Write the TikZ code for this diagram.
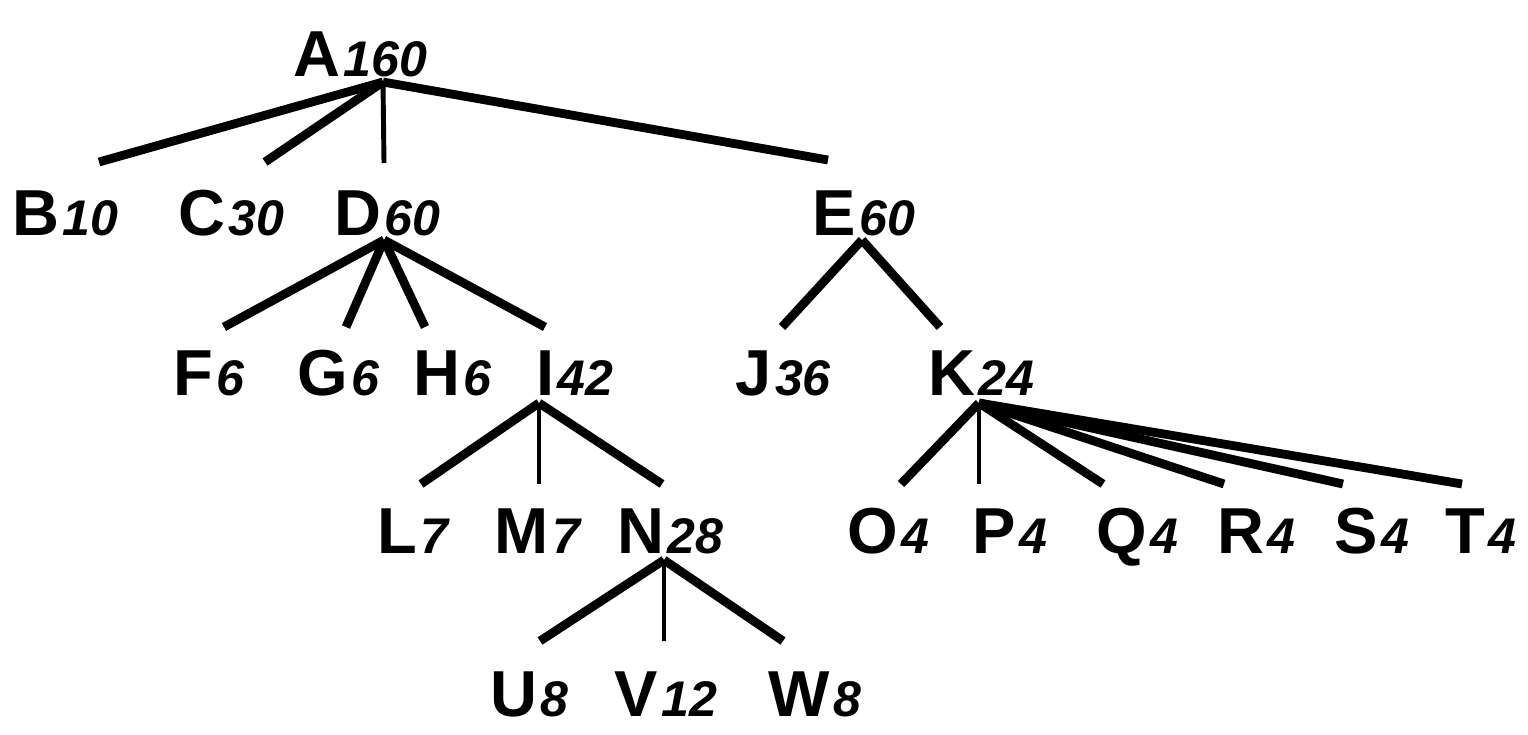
\documentclass[tikz,border=0pt]{standalone}
\usepackage{fontspec}
\setmainfont{Liberation Sans}
\usetikzlibrary{positioning}
\newcommand{\nm}[1]{\hspace{2pt}{\fontsize{28.5}{28.5}\selectfont\bfseries\itshape #1}}
\tikzset{
  lbl/.style={anchor=base west,inner sep=0pt,font=\fontsize{37}{37}\selectfont\bfseries},
  edge/.style={line width=5pt},
  vedge/.style={line width=2.8pt}
}
\begin{document}
\begin{tikzpicture}[x=0.02cm,y=-0.02cm]
\useasboundingbox (0,0) rectangle (1528,734);
% labels
\node[lbl] (A) at (293,76) {A\nm{160}};
\node[lbl] (B) at (12,235) {B\nm{10}};
\node[lbl] (C) at (178,235) {C\nm{30}};
\node[lbl] (D) at (334,235) {D\nm{60}};
\node[lbl] (E) at (812,235) {E\nm{60}};
\node[lbl] (F) at (173,395) {F\nm{6}};
\node[lbl] (G) at (297,395) {G\nm{6}};
\node[lbl] (H) at (413,395) {H\nm{6}};
\node[lbl] (I) at (536,395) {I\nm{42}};
\node[lbl] (J) at (735,395) {J\nm{36}};
\node[lbl] (K) at (928,395) {K\nm{24}};
\node[lbl] (L) at (377,553) {L\nm{7}};
\node[lbl] (M) at (494,553) {M\nm{7}};
\node[lbl] (N) at (617,553) {N\nm{28}};
\node[lbl] (O) at (847,553) {O\nm{4}};
\node[lbl] (P) at (972,553) {P\nm{4}};
\node[lbl] (Q) at (1096,553) {Q\nm{4}};
\node[lbl] (R) at (1217,553) {R\nm{4}};
\node[lbl] (S) at (1334,553) {S\nm{4}};
\node[lbl] (T) at (1445,553) {T\nm{4}};
\node[lbl] (U) at (490,716) {U\nm{8}};
\node[lbl] (V) at (614,716) {V\nm{12}};
\node[lbl] (W) at (768,716) {W\nm{8}};
% branch points under parents
\coordinate (A-h) at (383,82);
\coordinate (D-h) at (384,240);
\coordinate (E-h) at (862,240);
\coordinate (I-h) at (539,403);
\coordinate (K-h) at (979,403);
\coordinate (N-h) at (664,560);
% line ends above children
\coordinate (B-t) at (99,162);
\coordinate (C-t) at (265,162);
\coordinate (D-t) at (384,163);
\coordinate (E-t) at (828,160);
\coordinate (F-t) at (224,327);
\coordinate (G-t) at (346,327);
\coordinate (H-t) at (425,327);
\coordinate (I-t) at (545,327);
\coordinate (J-t) at (782,327);
\coordinate (K-t) at (940,327);
\coordinate (L-t) at (421,484);
\coordinate (M-t) at (539,484);
\coordinate (N-t) at (662,484);
\coordinate (O-t) at (901,484);
\coordinate (P-t) at (979,484);
\coordinate (Q-t) at (1103,484);
\coordinate (R-t) at (1224,484);
\coordinate (S-t) at (1343,484);
\coordinate (T-t) at (1462,484);
\coordinate (U-t) at (540,641);
\coordinate (V-t) at (664,641);
\coordinate (W-t) at (783,641);
% edges
\draw[edge] (A-h) -- (B-t);
\draw[edge] (A-h) -- (C-t);
\draw[vedge] (A-h) -- (D-t);
\draw[edge] (A-h) -- (E-t);
\draw[edge] (D-h) -- (F-t);
\draw[edge] (D-h) -- (G-t);
\draw[edge] (D-h) -- (H-t);
\draw[edge] (D-h) -- (I-t);
\draw[edge] (E-h) -- (J-t);
\draw[edge] (E-h) -- (K-t);
\draw[edge] (I-h) -- (L-t);
\draw[vedge] (I-h) -- (M-t);
\draw[edge] (I-h) -- (N-t);
\draw[edge] (K-h) -- (O-t);
\draw[vedge] (K-h) -- (P-t);
\draw[edge] (K-h) -- (Q-t);
\draw[edge] (K-h) -- (R-t);
\draw[edge] (K-h) -- (S-t);
\draw[edge] (K-h) -- (T-t);
\draw[edge] (N-h) -- (U-t);
\draw[vedge] (N-h) -- (V-t);
\draw[edge] (N-h) -- (W-t);
\end{tikzpicture}
\end{document}
